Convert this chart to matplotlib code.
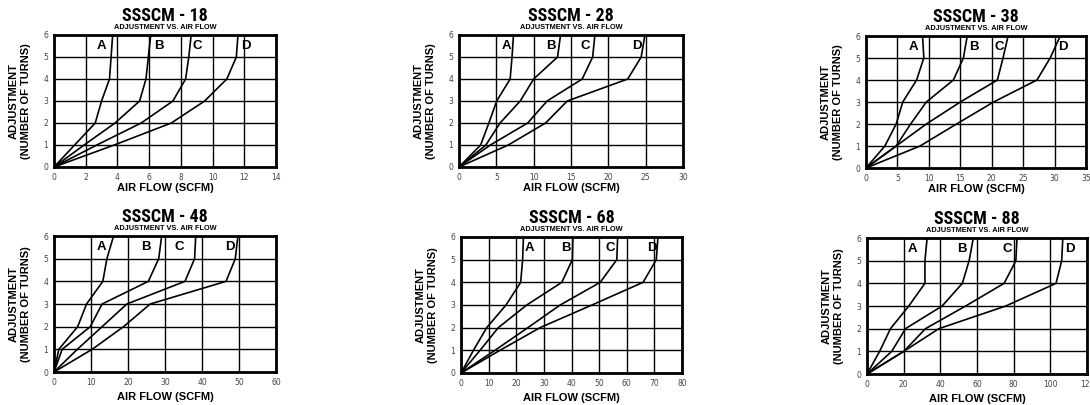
import numpy as np
import matplotlib
matplotlib.use("Agg")
import matplotlib.pyplot as plt

# adjustment (number of turns) is the same for every curve
turns = [0, 1, 2, 3, 4, 5, 6]
curve_names = ["A", "B", "C", "D"]

models = ["SSSCM - 18", "SSSCM - 28", "SSSCM - 38",
          "SSSCM - 48", "SSSCM - 68", "SSSCM - 88"]
x_max = [14, 30, 35, 60, 80, 120]
x_step = [2, 5, 5, 10, 10, 20]

# air flow (SCFM) read at each turn, curves A..D
flow_18 = [[0, 1.3, 2.6, 3.0, 3.5, 3.6, 3.7],
           [0, 1.9, 3.85, 5.4, 5.8, 5.95, 6.1],
           [0, 2.7, 5.5, 7.5, 8.3, 8.5, 8.65],
           [0, 3.8, 7.4, 9.5, 10.9, 11.5, 11.6]]
flow_28 = [[0, 2.9, 4.0, 5.05, 6.85, 7.1, 7.3],
           [0, 3.6, 5.5, 8.2, 10.0, 13.2, 13.6],
           [0, 4.2, 9.2, 11.8, 16.5, 17.9, 18.2],
           [0, 6.6, 11.6, 14.5, 22.6, 24.4, 24.9]]
flow_38 = [[0, 3.0, 4.8, 5.85, 8.05, 9.2, 9.0],
           [0, 4.8, 7.1, 9.6, 13.9, 15.5, 16.1],
           [0, 4.8, 9.6, 15.0, 20.9, 21.8, 22.6],
           [0, 8.6, 14.4, 20.3, 27.2, 29.3, 30.9]]
flow_48 = [[0, 1.3, 6.4, 8.8, 13.2, 14.3, 16.1],
           [0, 2.2, 9.8, 13.0, 25.5, 28.3, 29.1],
           [0, 6.3, 13.0, 19.7, 35.4, 38.0, 38.3],
           [0, 10.3, 18.8, 26.0, 46.5, 49.0, 49.7]]
flow_68 = [[0, 4.5, 9.3, 16.3, 21.6, 22.3, 22.6],
           [0, 6.9, 13.5, 23.8, 36.5, 40.3, 40.5],
           [0, 12.3, 24.2, 35.9, 50.4, 56.4, 56.7],
           [0, 14.1, 28.6, 47.4, 65.9, 70.7, 71.3]]
flow_88 = [[0, 6.9, 12.8, 22.8, 31.6, 31.6, 32.8],
           [0, 13.5, 21.0, 41.0, 52.0, 55.7, 58.0],
           [0, 20.1, 31.9, 53.8, 74.8, 81.2, 81.8],
           [0, 20.1, 39.2, 75.7, 103.1, 106.2, 106.8]]
all_flows = [flow_18, flow_28, flow_38, flow_48, flow_68, flow_88]

# where the A/B/C/D letters sit (x in SCFM)
label_x = [[3.0, 6.6, 9.05, 12.1],
           [6.3, 12.35, 16.9, 23.8],
           [7.5, 17.2, 21.2, 31.4],
           [12.7, 24.8, 33.8, 47.6],
           [24.8, 38.1, 54.0, 69.1],
           [24.6, 51.6, 76.3, 110.4]]
label_y = 5.5

# axes boxes in pixels: left, top, right, bottom
W, H = 1090, 405
boxes = [(54, 35, 276, 167), (459, 35, 683, 167), (866, 36, 1086, 168),
         (54, 236, 276, 372), (461, 237, 682, 373), (867, 238, 1087, 374)]

title_font = ["Roboto Condensed", "Liberation Sans Narrow", "Liberation Sans"]
bold_font = ["Liberation Sans", "DejaVu Sans"]

fig = plt.figure(figsize=(W / 100, H / 100), dpi=100)
fig.patch.set_facecolor("white")

for i, (l, t, r, b) in enumerate(boxes):
    ax = fig.add_axes([l / W, (H - b) / H, (r - l) / W, (b - t) / H])
    for name, xs in zip(curve_names, all_flows[i]):
        ax.plot(xs, turns, color="black", lw=1.2, solid_joinstyle="miter")
    for name, lx in zip(curve_names, label_x[i]):
        ax.text(lx, label_y, name, ha="center", va="center",
                fontsize=9.5, fontweight="bold", family=bold_font)

    ax.set_xlim(0, x_max[i])
    ax.set_ylim(0, 6)
    ax.set_xticks(np.arange(0, x_max[i] + 1, x_step[i]))
    ax.set_yticks(turns)
    ax.grid(True, color="black", lw=1.0)
    ax.set_axisbelow(True)
    for s in ax.spines.values():
        s.set_linewidth(2.0)
    ax.tick_params(length=0, pad=4, labelsize=5.5, labelcolor="#444444")

    ax.annotate(models[i], xy=(0.5, 1), xycoords="axes fraction",
                xytext=(0, 14), textcoords="offset points",
                ha="center", va="center", fontsize=13, fontweight="heavy",
                family=title_font)
    ax.annotate("ADJUSTMENT VS. AIR FLOW", xy=(0.5, 1), xycoords="axes fraction",
                xytext=(0, 5.5), textcoords="offset points",
                ha="center", va="center", fontsize=5.3, fontweight="bold",
                family=bold_font)
    ax.annotate("ADJUSTMENT\n(NUMBER OF TURNS)", xy=(0, 0.5), xycoords="axes fraction",
                xytext=(-24.5, 0), textcoords="offset points",
                ha="center", va="center", rotation=90, fontsize=8,
                fontweight="bold", family=bold_font, linespacing=1.25,
                multialignment="center")
    off = -15 if i < 3 else -18
    ax.annotate("AIR FLOW (SCFM)", xy=(0.5, 0), xycoords="axes fraction",
                xytext=(0, off), textcoords="offset points",
                ha="center", va="center", fontsize=8, fontweight="bold",
                family=bold_font)

fig.savefig("out.png", dpi=100)
